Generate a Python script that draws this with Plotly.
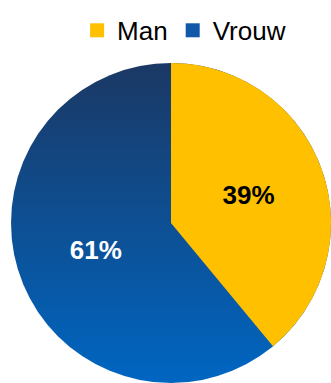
import base64
import plotly.graph_objects as go

# Data
labels = ["Man", "Vrouw"]
values = [39, 61]
colors = ["#FFC000", "#1159A8"]
text_colors = ["#000000", "#FFFFFF"]
grad_top, grad_bottom = "#1B3864", "#0066C2"

W, H = 331, 383
R = 160
cx, cy_from_bottom = 171, 160
dom_x = [(cx - R) / W, (cx + R) / W]
dom_y = [(cy_from_bottom - R) / H, (cy_from_bottom + R) / H]

svg = (
    '<svg xmlns="http://www.w3.org/2000/svg" width="400" height="400" viewBox="0 0 400 400">'
    '<defs><linearGradient id="g" x1="0" y1="0" x2="0" y2="1">'
    f'<stop offset="0" stop-color="{grad_top}"/><stop offset="1" stop-color="{grad_bottom}"/>'
    '</linearGradient></defs><circle cx="200" cy="200" r="200" fill="url(#g)"/></svg>'
)
img_src = "data:image/svg+xml;base64," + base64.b64encode(svg.encode()).decode()

fig = go.Figure()
fig.add_trace(go.Pie(
    labels=labels,
    values=values,
    sort=False,
    direction="clockwise",
    rotation=0,
    marker=dict(colors=[colors[0], "rgba(0,0,0,0)"], line=dict(width=0)),
    texttemplate="<b>%{percent:.0%}</b>",
    textposition="inside",
    insidetextorientation="horizontal",
    textfont=dict(family="Liberation Sans, Arial, sans-serif", size=26, color=text_colors),
    domain=dict(x=dom_x, y=dom_y),
    showlegend=False,
    hoverinfo="label+percent",
))

# legend entries
for lab, col in zip(labels, colors):
    fig.add_trace(go.Scatter(
        x=[None], y=[None], mode="markers", name=lab,
        marker=dict(symbol="square", size=14, color=col),
        showlegend=True,
    ))

fig.update_layout(
    width=W, height=H,
    margin=dict(l=0, r=0, t=0, b=0),
    paper_bgcolor="white",
    plot_bgcolor="white",
    xaxis=dict(visible=False),
    yaxis=dict(visible=False),
    images=[dict(
        source=img_src, xref="paper", yref="paper",
        x=dom_x[0], y=dom_y[1], sizex=dom_x[1] - dom_x[0], sizey=dom_y[1] - dom_y[0],
        xanchor="left", yanchor="top", sizing="stretch", layer="below",
    )],
    legend=dict(
        orientation="h",
        x=0.233, xanchor="left",
        y=0.982, yanchor="top",
        font=dict(family="Liberation Sans, Arial, sans-serif", size=26, color="#000000"),
        itemwidth=30,
        bgcolor="rgba(0,0,0,0)",
    ),
)

fig.write_html("out.html", config={"displayModeBar": False},
               post_script="document.body.style.margin='0';")
